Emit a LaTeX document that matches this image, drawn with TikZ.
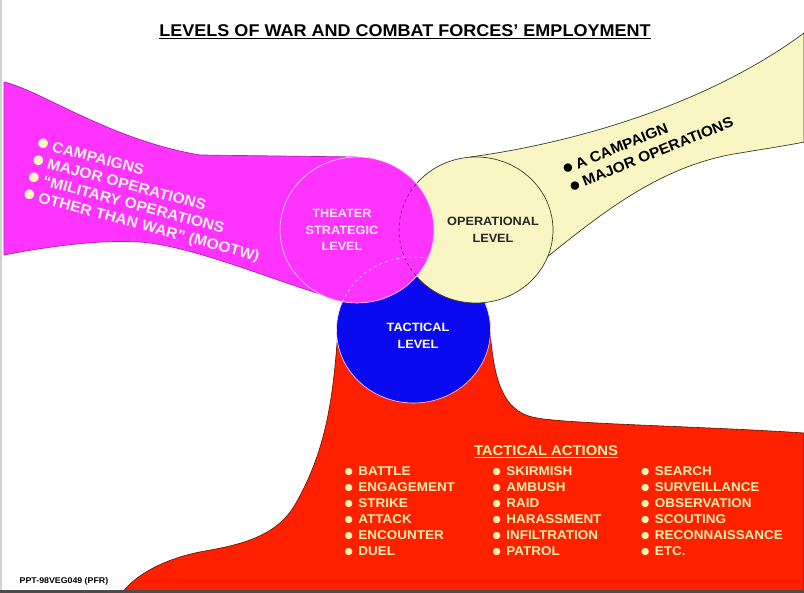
\documentclass[tikz,border=0pt]{standalone}
\usepackage{fontspec}
\setmainfont{Liberation Sans}[FakeStretch=1.06]
\newfontfamily\dvfont{DejaVu Sans}
\newcommand\bul[2]{\raisebox{#2}{\dvfont\fontsize{#1}{#1}\selectfont ●}}
\usetikzlibrary{shapes.geometric}
\definecolor{mag}{HTML}{FF33FF}
\definecolor{magline}{HTML}{B020B0}
\definecolor{pinkline}{HTML}{FFD8FF}
\definecolor{yel}{HTML}{FAF6C4}
\definecolor{yline}{HTML}{3C3C28}
\definecolor{bluec}{HTML}{0A0AF0}
\definecolor{redc}{HTML}{FF2000}
\definecolor{redline}{HTML}{601000}
\definecolor{cream}{HTML}{FFF0B0}
\definecolor{creamb}{HTML}{FFF8C0}
\definecolor{creamw}{HTML}{FFF4E8}
\definecolor{pinkw}{HTML}{FFE8FF}
\begin{document}
\begin{tikzpicture}[x=1pt,y=-1pt,
  lev/.style={ellipse, minimum width=154pt, minimum height=146pt, inner sep=0pt, outer sep=0pt},
  ctext/.style={font=\bfseries\fontsize{12}{16.5}\selectfont, align=center, inner sep=0pt},
  lband/.style={anchor=base west, rotate=-15, text=creamw, inner sep=0pt, font=\bfseries\fontsize{14.8}{16}\selectfont},
  yband/.style={anchor=base west, rotate=22, text=black, inner sep=0pt, font=\bfseries\fontsize{14.6}{16}\selectfont},
  act/.style={anchor=base west, text=cream, inner sep=0pt, font=\bfseries\fontsize{12.7}{15}\selectfont}]
\useasboundingbox (0,0) rectangle (804,593);
\fill[white] (0,0) rectangle (804,593);
\draw[gray!35, line width=1.5pt] (1,0) -- (1,593);
% red band
\path[draw=redline, line width=0.6pt, fill=redc] (338,330) .. controls (333,400) and (326,450) .. (296,503) .. controls (278,535) and (245,544) .. (205,551) .. controls (165,558) and (135,575) .. (122,593) -- (804,593) -- (804,433) .. controls (700,426) and (560,424) .. (532,417) .. controls (505,410) and (494,385) .. (490,330) -- cycle;
\node[lev, fill=bluec, draw=pinkline, line width=0.6pt] (tac) at (413.5,330) {};
% yellow band
\path[draw=yline, line width=0.7pt, fill=yel] (476,230) -- (470,157) .. controls (560,145) and (700,110) .. (804,33) -- (804,142) .. controls (790,145) and (770,148) .. (740,153) .. controls (660,165) and (600,215) .. (547,257) -- cycle;
\node[lev, fill=yel, draw=yline, line width=0.7pt] (op) at (476,230) {};
% magenta band
\path[draw=magline, line width=0.7pt, fill=mag] (357,230) -- (320,294) .. controls (260,275) and (200,250) .. (150,243) .. controls (110,238) and (50,246) .. (4,255) -- (4,82) .. controls (40,90) and (110,140) .. (200,155) -- (357,157) -- cycle;
\node[lev, fill=mag, draw=pinkline, line width=0.6pt] (th) at (357,230) {};
\begin{scope}
  \clip (357,230) ellipse [x radius=77pt, y radius=73pt];
  \draw[yline, dashed, line width=0.6pt] (476,230) ellipse [x radius=77pt, y radius=73pt];
  \draw[pinkline, dashed, line width=0.6pt] (413.5,330) ellipse [x radius=77pt, y radius=73pt];
\end{scope}
% circle texts
\node[ctext, text=pinkw] (tht) at (342,230) {THEATER\\STRATEGIC\\LEVEL};
\node[ctext, text=black!85] (opt) at (493,230) {OPERATIONAL\\LEVEL};
\node[ctext, text=white] (tact) at (418,336) {TACTICAL\\LEVEL};
% title
\node[font=\bfseries\fontsize{17}{18}\selectfont, inner sep=0pt] (title) at (405,32) {\underline{LEVELS OF WAR AND COMBAT FORCES’ EMPLOYMENT}};
% left band text
\node[lband] (l1) at (36.5,147.2) {\textcolor{creamb}{\bul{12.5}{1.5pt}}\hspace{4pt}CAMPAIGNS};
\node[lband] (l2) at (31.9,164.2) {\textcolor{creamb}{\bul{12.5}{1.5pt}}\hspace{4pt}MAJOR OPERATIONS};
\node[lband] (l3) at (27.3,181.2) {\textcolor{creamb}{\bul{12.5}{1.5pt}}\hspace{4pt}“MILITARY OPERATIONS};
\node[lband] (l4) at (22.7,198.2) {\textcolor{creamb}{\bul{12.5}{1.5pt}}\hspace{4pt}OTHER THAN WAR” (MOOTW)};
% yellow band text
\node[yband] (y1) at (565,174.3) {\bul{11}{1.5pt}\hspace{4pt}A CAMPAIGN};
\node[yband] (y2) at (572,191.7) {\bul{11}{1.5pt}\hspace{4pt}MAJOR OPERATIONS};
% tactical actions
\node[font=\bfseries\fontsize{14}{16}\selectfont, text=cream, inner sep=0pt] (tahead) at (546,452) {\underline{TACTICAL ACTIONS}};
\foreach \t [count=\i] in {BATTLE,ENGAGEMENT,STRIKE,ATTACK,ENCOUNTER,DUEL}
  \node[act] (ca\i) at (344.5,{475.5+16*(\i-1)}) {\bul{9.5}{1.2pt}\hspace{5.5pt}\t};
\foreach \t [count=\i] in {SKIRMISH,AMBUSH,RAID,HARASSMENT,INFILTRATION,PATROL}
  \node[act] (cb\i) at (492.5,{475.5+16*(\i-1)}) {\bul{9.5}{1.2pt}\hspace{5.5pt}\t};
\foreach \t [count=\i] in {SEARCH,SURVEILLANCE,OBSERVATION,SCOUTING,RECONNAISSANCE,ETC.}
  \node[act] (cc\i) at (641,{475.5+16*(\i-1)}) {\bul{9.5}{1.2pt}\hspace{5.5pt}\t};
% footnote
\node[font=\bfseries\fontsize{8.3}{9}\selectfont, anchor=west, inner sep=0pt] (ppt) at (19.5,581) {PPT-98VEG049 (PFR)};
\fill[black!70] (0,590.5) rectangle (804,593);
\end{tikzpicture}
\end{document}
